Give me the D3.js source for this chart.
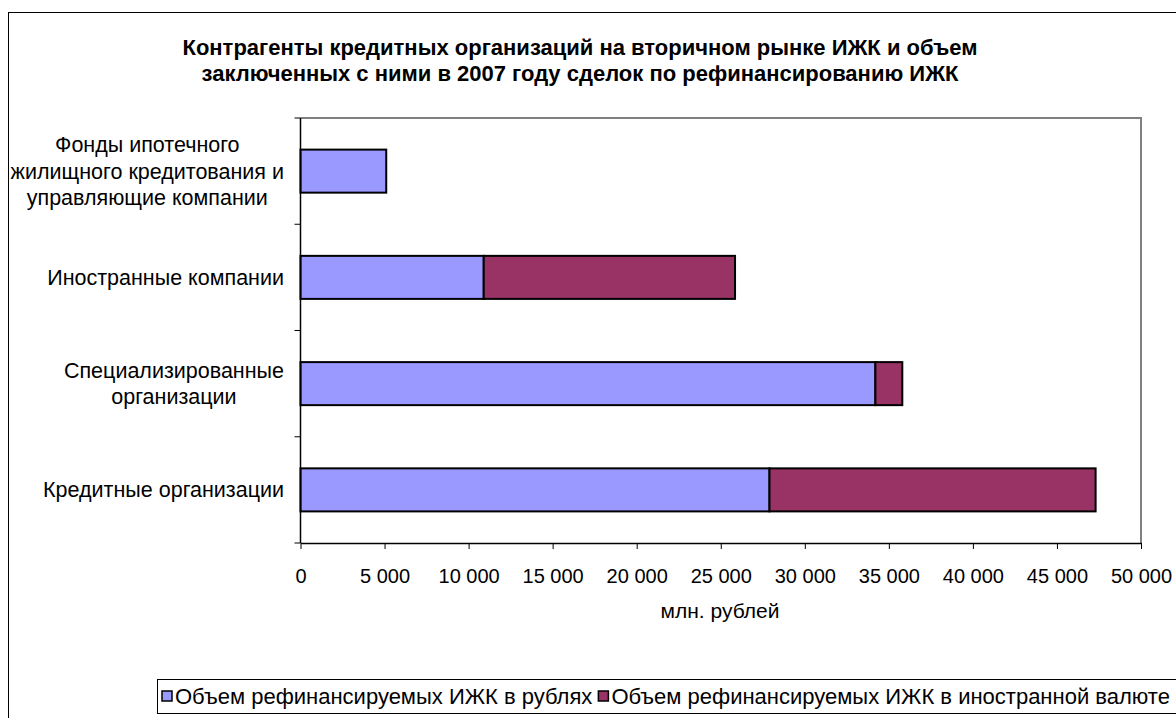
<!DOCTYPE html>
<html><head><meta charset="utf-8">
<script src="https://cdn.jsdelivr.net/npm/d3@7"></script>
<style>
html,body{margin:0;padding:0;background:#fff;}
svg{display:block;font-family:"Liberation Sans",Arial,sans-serif;}
</style></head>
<body>
<svg id="chart" width="1176" height="718"></svg>
<script>
const categories = [
  "Фонды ипотечного жилищного кредитования и управляющие компании",
  "Иностранные компании",
  "Специализированные организации",
  "Кредитные организации"
];
const categoryLines = [
  ["Фонды ипотечного", "жилищного кредитования и", "управляющие компании"],
  ["Иностранные компании"],
  ["Специализированные", "организации"],
  ["Кредитные организации"]
];
const seriesNames = ["Объем рефинансируемых ИЖК в рублях", "Объем рефинансируемых ИЖК в иностранной валюте"];
const rubles = [5100, 10900, 34200, 27900];
const foreignCurrency = [0, 14950, 1600, 19400];
const xTicks = [0, 5000, 10000, 15000, 20000, 25000, 30000, 35000, 40000, 45000, 50000];
const titleLines = ["Контрагенты кредитных организаций на вторичном рынке ИЖК и объем",
                    "заключенных с ними в 2007 году сделок по рефинансированию ИЖК"];
const xAxisTitle = "млн. рублей";
const colors = ["#9999FF", "#993366"];

const svg = d3.select("#chart");
const plot = {left: 300.5, right: 1141, top: 118, bottom: 543};

// outer chart border
svg.append("rect").attr("x", 8.5).attr("y", 12.5).attr("width", 1200).attr("height", 800)
  .attr("fill", "#fff").attr("stroke", "#000").attr("stroke-width", 1);

// title
svg.append("g").selectAll("text").data(titleLines).join("text")
  .attr("x", 580).attr("y", (d, i) => 55 + i * 26)
  .attr("text-anchor", "middle").attr("font-weight", "bold").attr("font-size", 22)
  .text(d => d);

const x = d3.scaleLinear().domain([0, 50000]).range([plot.left, plot.right]);
const y = d3.scaleBand().domain(categories).range([plot.top, plot.bottom]).paddingInner(0.595).paddingOuter(0.2975);

// plot border (top/right gray)
svg.append("path")
  .attr("d", `M${plot.left},${plot.top}H${plot.right}V${plot.bottom}`)
  .attr("fill", "none").attr("stroke", "#808080").attr("stroke-width", 2);

// stacked data
const data = categories.map((c, i) => ({cat: c, rub: rubles[i], fx: foreignCurrency[i]}));
const stack = d3.stack().keys(["rub", "fx"])(data);

svg.append("g").selectAll("g").data(stack).join("g")
  .attr("fill", (d, i) => colors[i])
  .selectAll("rect").data(d => d.filter(p => p[1] - p[0] > 0)).join("rect")
  .attr("x", d => x(d[0])).attr("width", d => x(d[1]) - x(d[0]))
  .attr("y", d => y(d.data.cat)).attr("height", y.bandwidth())
  .attr("stroke", "#000").attr("stroke-width", 2);

// x axis
const xAxis = svg.append("g").attr("transform", `translate(0,${plot.bottom})`)
  .call(d3.axisBottom(x).tickValues(xTicks).tickSize(6).tickSizeOuter(0)
    .tickFormat(d => d3.format(",")(d).replace(/,/g, " ")));
xAxis.select(".domain").attr("stroke", "#000").attr("stroke-width", 1.5);
xAxis.selectAll("line").attr("stroke", "#000");
xAxis.selectAll("text").attr("font-size", 20).attr("fill", "#000").attr("dy", null).attr("y", 40)
  .attr("font-family", "'Liberation Sans',Arial,sans-serif");

// y axis: ticks at band boundaries
const yBounds = d3.range(categories.length + 1).map(i => plot.top + i * (plot.bottom - plot.top) / categories.length);
svg.append("line").attr("x1", plot.left).attr("x2", plot.left).attr("y1", plot.top).attr("y2", plot.bottom)
  .attr("stroke", "#000").attr("stroke-width", 1.5);
svg.append("g").selectAll("line").data(yBounds).join("line")
  .attr("x1", plot.left - 6).attr("x2", plot.left).attr("y1", d => d).attr("y2", d => d)
  .attr("stroke", "#000").attr("stroke-width", 1);

// category labels
const labelRight = 284;
const lh = 26.5;
const lg = svg.append("g").attr("font-size", 21.5);
categoryLines.forEach((lines, i) => {
  const cy = y(categories[i]) + y.bandwidth() / 2;
  const g = lg.append("g");
  const texts = g.selectAll("text").data(lines).join("text")
    .attr("y", (d, j) => cy + (j - (lines.length - 1) / 2) * lh + 7.5)
    .text(d => d);
  let maxW = 0;
  texts.each(function() { maxW = Math.max(maxW, this.getComputedTextLength()); });
  texts.attr("x", labelRight - maxW / 2).attr("text-anchor", "middle");
});

// x axis title
svg.append("text").attr("x", 720).attr("y", 618).attr("text-anchor", "middle")
  .attr("font-size", 21).text(xAxisTitle);

// legend
const leg = svg.append("g");
leg.append("rect").attr("x", 157.5).attr("y", 679.5).attr("width", 1100).attr("height", 34)
  .attr("fill", "#fff").attr("stroke", "#000").attr("stroke-width", 1);
let lx = 162;
seriesNames.forEach((name, i) => {
  leg.append("rect").attr("x", lx).attr("y", 691).attr("width", 10).attr("height", 10)
    .attr("fill", colors[i]).attr("stroke", "#000").attr("stroke-width", 1.5);
  const t = leg.append("text").attr("x", lx + 13).attr("y", 704).attr("font-size", 22).text(name);
  lx += 13 + t.node().getComputedTextLength() + 6;
});
</script>
</body></html>
